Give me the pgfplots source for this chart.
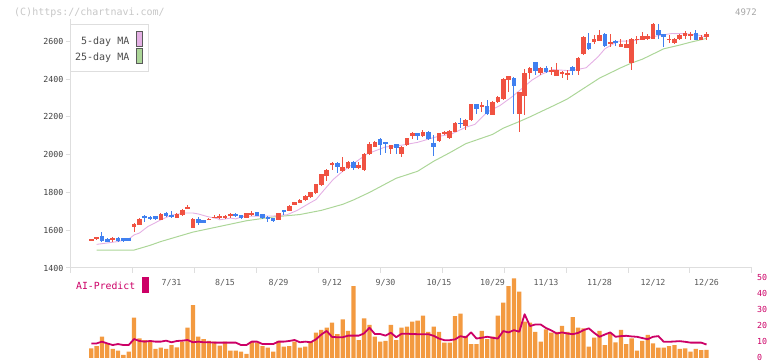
\documentclass[border=0pt]{standalone}
\usepackage{pgfplots}
\pgfplotsset{compat=1.18}
\usepackage{pgfplotstable}
\usepackage{fontspec}
\setmainfont{DejaVu Sans Mono}
\definecolor{cup}{RGB}{240,82,66}
\definecolor{cdn}{RGB}{64,128,240}
\definecolor{ma5}{RGB}{228,176,228}
\definecolor{ma25}{RGB}{172,214,152}
\definecolor{vol}{RGB}{243,154,64}
\definecolor{aip}{RGB}{204,0,102}
\definecolor{axgray}{RGB}{222,222,222}

\pgfplotstableread{
i o h l c
0 1547 1552 1545 1550
1 1553 1563 1550 1562
2 1569 1590 1540 1545
3 1556 1558 1538 1540
4 1550 1562 1540 1560
5 1561 1562 1538 1541
6 1557 1558 1537 1543
7 1560 1561 1541 1543
8 1615 1636 1588 1632
9 1628 1663 1626 1661
10 1677 1679 1641 1664
11 1672 1674 1654 1658
12 1674 1676 1655 1657
13 1656 1689 1654 1687
14 1692 1694 1672 1674
15 1682 1700 1666 1668
16 1665 1692 1662 1688
17 1680 1712 1676 1706
18 1718 1736 1710 1722
19 1614 1662 1612 1660
20 1660 1668 1630 1637
21 1652 1654 1636 1638
22 1657 1663 1654 1660
23 1667 1680 1663 1671
24 1670 1687 1661 1675
25 1668 1682 1658 1672
26 1673 1691 1664 1685
27 1687 1690 1671 1673
28 1678 1680 1660 1664
29 1664 1693 1662 1691
30 1684 1700 1673 1688
31 1694 1697 1674 1677
32 1684 1687 1660 1665
33 1670 1675 1646 1664
34 1664 1666 1643 1647
35 1655 1693 1652 1691
36 1706 1707 1678 1695
37 1703 1732 1700 1730
38 1735 1750 1733 1748
39 1744 1765 1742 1762
40 1758 1786 1755 1783
41 1776 1804 1773 1801
42 1797 1846 1794 1843
43 1841 1900 1833 1895
44 1889 1925 1859 1921
45 1950 1960 1921 1955
46 1957 1960 1904 1932
47 1912 1990 1910 1932
48 1927 1968 1925 1962
49 1962 1964 1920 1927
50 1927 1960 1925 1943
51 1918 2008 1916 2005
52 2003 2067 2000 2054
53 2042 2070 2040 2067
54 2081 2090 1996 2049
55 2064 2066 2010 2060
56 2028 2052 2001 2049
57 2054 2057 2001 2035
58 2001 2045 1987 2042
59 2050 2088 2048 2086
60 2098 2120 2084 2113
61 2113 2115 2080 2100
62 2098 2133 2095 2122
63 2122 2124 2078 2081
64 2063 2104 1992 2042
65 2072 2116 2069 2113
66 2109 2125 2106 2120
67 2087 2128 2085 2124
68 2120 2173 2118 2170
69 2168 2196 2139 2165
70 2152 2187 2130 2184
71 2184 2270 2180 2267
72 2267 2270 2214 2240
73 2250 2279 2226 2262
74 2255 2287 2210 2214
75 2212 2282 2208 2279
76 2276 2310 2274 2306
77 2292 2403 2290 2400
78 2396 2418 2329 2414
79 2405 2410 2214 2364
80 2214 2332 2120 2329
81 2308 2453 2210 2432
82 2432 2462 2400 2459
83 2489 2492 2421 2444
84 2432 2462 2421 2459
85 2459 2467 2432 2438
86 2442 2462 2421 2446
87 2418 2485 2414 2449
88 2427 2442 2404 2439
89 2425 2449 2396 2429
90 2462 2471 2421 2444
91 2440 2515 2420 2512
92 2531 2627 2528 2620
93 2591 2645 2553 2561
94 2597 2632 2588 2614
95 2602 2659 2600 2632
96 2641 2646 2572 2575
97 2588 2641 2571 2597
98 2602 2609 2573 2589
99 2570 2610 2568 2588
100 2565 2609 2563 2584
101 2485 2617 2450 2614
102 2606 2627 2588 2614
103 2609 2650 2606 2627
104 2610 2641 2606 2627
105 2614 2699 2612 2694
106 2659 2691 2614 2632
107 2638 2641 2570 2620
108 2608 2632 2591 2611
109 2591 2617 2588 2614
110 2614 2641 2606 2632
111 2627 2655 2614 2646
112 2629 2650 2609 2638
113 2645 2659 2606 2609
114 2609 2632 2606 2620
115 2620 2650 2609 2641
}\ohlc

\pgfplotstableread{
i v ai
0 6.0 9.0
1 7.4 9.0
2 13.2 10.1
3 8.6 9.0
4 5.6 8.0
5 4.5 8.6
6 1.9 8.0
7 3.9 8.0
8 24.9 11.7
9 12.1 10.5
10 11.1 10.1
11 10.1 10.5
12 5.6 10.1
13 6.4 10.1
14 5.6 10.7
15 8.0 9.7
16 6.6 10.5
17 10.1 10.7
18 18.7 11.1
19 32.7 9.7
20 13.2 10.1
21 11.7 9.7
22 10.5 9.7
23 10.1 9.5
24 7.6 9.5
25 10.1 9.5
26 4.5 9.5
27 4.5 9.5
28 3.9 8.0
29 2.5 8.0
30 10.1 10.1
31 9.5 10.1
32 7.4 8.6
33 6.4 8.6
34 3.9 8.6
35 10.5 10.1
36 7.0 10.1
37 7.4 10.5
38 10.1 11.1
39 6.4 9.7
40 7.0 10.1
41 10.1 9.7
42 15.6 11.5
43 17.3 14.5
44 18.7 16.7
45 21.8 13.0
46 14.8 12.8
47 23.9 12.8
48 16.7 13.8
49 44.4 13.8
50 11.1 13.8
51 24.5 15.2
52 20.4 18.7
53 13.2 14.8
54 10.1 14.8
55 10.5 13.8
56 20.4 15.6
57 11.1 12.8
58 18.7 15.0
59 19.3 15.0
60 22.4 14.8
61 23.0 14.7
62 26.1 14.7
63 16.2 14.7
64 19.3 13.7
65 16.2 12.0
66 9.5 11.0
67 9.5 11.0
68 25.9 11.5
69 27.4 13.5
70 13.6 12.7
71 8.6 15.8
72 8.6 12.0
73 16.7 12.5
74 11.7 13.1
75 13.2 12.5
76 26.1 12.0
77 34.2 16.6
78 44.4 15.8
79 49.2 17.2
80 40.9 16.2
81 22.4 27.0
82 21.8 19.7
83 16.2 20.7
84 10.1 20.7
85 17.7 18.5
86 15.6 17.0
87 16.2 15.1
88 19.8 15.8
89 16.2 15.1
90 25.3 14.7
91 18.7 15.5
92 18.3 17.2
93 7.0 18.3
94 12.6 15.5
95 16.7 13.1
96 8.0 14.5
97 15.2 15.8
98 9.7 13.1
99 17.3 13.5
100 8.6 13.7
101 12.1 13.3
102 4.5 13.1
103 10.5 12.3
104 14.2 11.6
105 9.0 13.1
106 6.4 13.5
107 6.4 10.0
108 7.4 10.0
109 8.0 10.2
110 5.6 10.4
111 6.0 10.0
112 3.9 9.5
113 5.6 9.5
114 4.9 9.5
115 5.0 8.3
}\vol

\begin{document}
\begin{tikzpicture}
\path[use as bounding box] (0,0) rectangle (772pt,361pt);
\begin{axis}[
  at={(71pt,93pt)}, anchor=south west, scale only axis,
  width=681pt, height=249.4pt,
  xmin=-3.79, xmax=123.5, ymin=1400, ymax=2720,
  axis x line*=bottom, axis y line*=left,
  axis line style={draw=axgray, line width=1pt},
  xtick={-3.79,7.78,19.35,30.92,42.49,54.06,65.63,77.2,88.77,100.34,111.91,123.48},
  xticklabels={},
  ytick={1400,1600,1800,2000,2200,2400,2600},
  tick align=outside, major tick length=5pt,
  tick style={draw=axgray, line width=1pt},
  yticklabel style={font=\fontsize{8.3}{9}\selectfont, text=black!75, xshift=1pt},
  /pgf/number format/set thousands separator={},
  /pgf/number format/assume math mode=true,
  clip=false,
]
\addplot[ma25, line width=1pt] coordinates {(1,1495)(8,1495)(11,1520)(13,1540)(16,1565)(19,1590)(24,1620)(29,1650)(34,1670)(39,1683)(43,1705)(47,1737)(49,1760)(52,1800)(57,1875)(61,1912)(64,1965)(67,2010)(70,2058)(75,2107)(77,2140)(80,2175)(82,2200)(87,2267)(89,2295)(92,2350)(95,2405)(99,2460)(101,2485)(103,2505)(107,2560)(110,2580)(112,2595)(115,2615)};
\addplot[ma5, line width=0.9pt] coordinates {(1,1525)(5,1540)(7,1553)(8,1575)(9,1585)(10.6,1620)(12,1640)(13,1655)(15,1680)(17.5,1691)(19,1691)(20,1686)(21.6,1673)(23.7,1660)(24,1655)(26,1664)(27,1660)(28.4,1673)(31.5,1675)(34,1675)(36.6,1682)(38.5,1705)(40.9,1745)(42,1762)(43.3,1806)(45.2,1868)(47,1912)(48.9,1950)(51.5,2003)(54.9,2040)(58,2050)(61,2065)(64.2,2092)(67.4,2110)(70,2145)(71.7,2160)(74,2225)(76.4,2260)(78.6,2305)(80.5,2350)(82.4,2395)(84.2,2426)(86.3,2450)(89.1,2445)(90.8,2450)(92.5,2460)(94.7,2517)(96,2560)(98.4,2600)(101.1,2602)(103.5,2615)(106,2630)(108.5,2641)(111,2640)(113.4,2633)(115,2622)};
% up candles: wicks and bodies
\addplot[draw=none, mark=none, restrict expr to domain={\thisrow{c}-\thisrow{o}}{0:100000},
  error bars/.cd, y dir=both, y explicit, error mark=none,
  error bar style={draw=cup, line width=1pt}]
  table[x=i, y expr={(\thisrow{h}+\thisrow{l})/2}, y error expr={(\thisrow{h}-\thisrow{l})/2}] {\ohlc};
\addplot[draw=none, mark=none, restrict expr to domain={\thisrow{c}-\thisrow{o}}{0:100000},
  error bars/.cd, y dir=both, y explicit, error mark=none,
  error bar style={draw=cup, line width=4.6pt}]
  table[x=i, y expr={(\thisrow{o}+\thisrow{c})/2}, y error expr={max(abs(\thisrow{c}-\thisrow{o})/2,2.7)}] {\ohlc};
% down candles
\addplot[draw=none, mark=none, restrict expr to domain={\thisrow{c}-\thisrow{o}}{-100000:-0.5},
  error bars/.cd, y dir=both, y explicit, error mark=none,
  error bar style={draw=cdn, line width=1pt}]
  table[x=i, y expr={(\thisrow{h}+\thisrow{l})/2}, y error expr={(\thisrow{h}-\thisrow{l})/2}] {\ohlc};
\addplot[draw=none, mark=none, restrict expr to domain={\thisrow{c}-\thisrow{o}}{-100000:-0.5},
  error bars/.cd, y dir=both, y explicit, error mark=none,
  error bar style={draw=cdn, line width=4.6pt}]
  table[x=i, y expr={(\thisrow{o}+\thisrow{c})/2}, y error expr={max(abs(\thisrow{c}-\thisrow{o})/2,2.7)}] {\ohlc};
\end{axis}

\begin{axis}[
  at={(71pt,3pt)}, anchor=south west, scale only axis,
  width=681pt, height=81pt,
  xmin=-3.79, xmax=123.5, ymin=0, ymax=50,
  hide axis, clip=false,
]
\addplot[ybar, bar width=4.3pt, fill=vol, draw=none] table[x=i, y=v] {\vol};
\addplot[aip, line width=1.8pt, line join=round, mark=none] table[x=i, y=ai] {\vol};
\end{axis}

% legend box
\draw[axgray, fill=white, line width=1pt] (70.5pt,336.5pt) rectangle (148.5pt,289.5pt);
\node[anchor=east, font=\fontsize{10}{11}\selectfont, text=black!70, inner sep=0pt] at (129.5pt,319.7pt) {5-day MA};
\node[anchor=east, font=\fontsize{10}{11}\selectfont, text=black!70, inner sep=0pt] at (129.5pt,303.7pt) {25-day MA};
\draw[fill=ma5, draw=black!65, line width=0.8pt] (136.3pt,330pt) rectangle (142.5pt,314.7pt);
\draw[fill=ma25, draw=black!65, line width=0.8pt] (136.3pt,312.7pt) rectangle (142.5pt,297.7pt);
% watermark and code
\node[anchor=west, font=\fontsize{10}{11}\selectfont, text=black!22, inner sep=0pt] at (14pt,348.7pt) {(C)https://chartnavi.com/};
\node[anchor=east, font=\fontsize{9}{10}\selectfont, text=black!35, inner sep=0pt] at (757pt,348.7pt) {4972};
% date labels
\begin{scope}[every node/.style={font=\fontsize{8.3}{9}\selectfont, text=black!65, inner sep=0pt}]
\node at (171.5pt,78.5pt) {7/31};
\node at (225pt,78.5pt) {8/15};
\node at (278.5pt,78.5pt) {8/29};
\node at (332pt,78.5pt) {9/12};
\node at (385.5pt,78.5pt) {9/30};
\node at (439pt,78.5pt) {10/15};
\node at (492.5pt,78.5pt) {10/29};
\node at (546pt,78.5pt) {11/13};
\node at (599.5pt,78.5pt) {11/28};
\node at (653pt,78.5pt) {12/12};
\node at (706.5pt,78.5pt) {12/26};
\end{scope}
% AI-Predict label
\node[anchor=west, font=\fontsize{9.8}{10}\selectfont, text=aip, inner sep=0pt] at (76pt,75pt) {AI-Predict};
\fill[aip] (142.3pt,84.3pt) rectangle (149pt,68.3pt);
% volume axis labels
\begin{scope}[every node/.style={anchor=west, font=\fontsize{8.3}{9}\selectfont, text=aip, inner sep=0pt}]
\node at (757pt,84pt) {50};
\node at (757pt,67.8pt) {40};
\node at (757pt,51.6pt) {30};
\node at (757pt,35.4pt) {20};
\node at (757pt,19.2pt) {10};
\node at (757pt,4pt) {0};
\end{scope}
\end{tikzpicture}
\end{document}
